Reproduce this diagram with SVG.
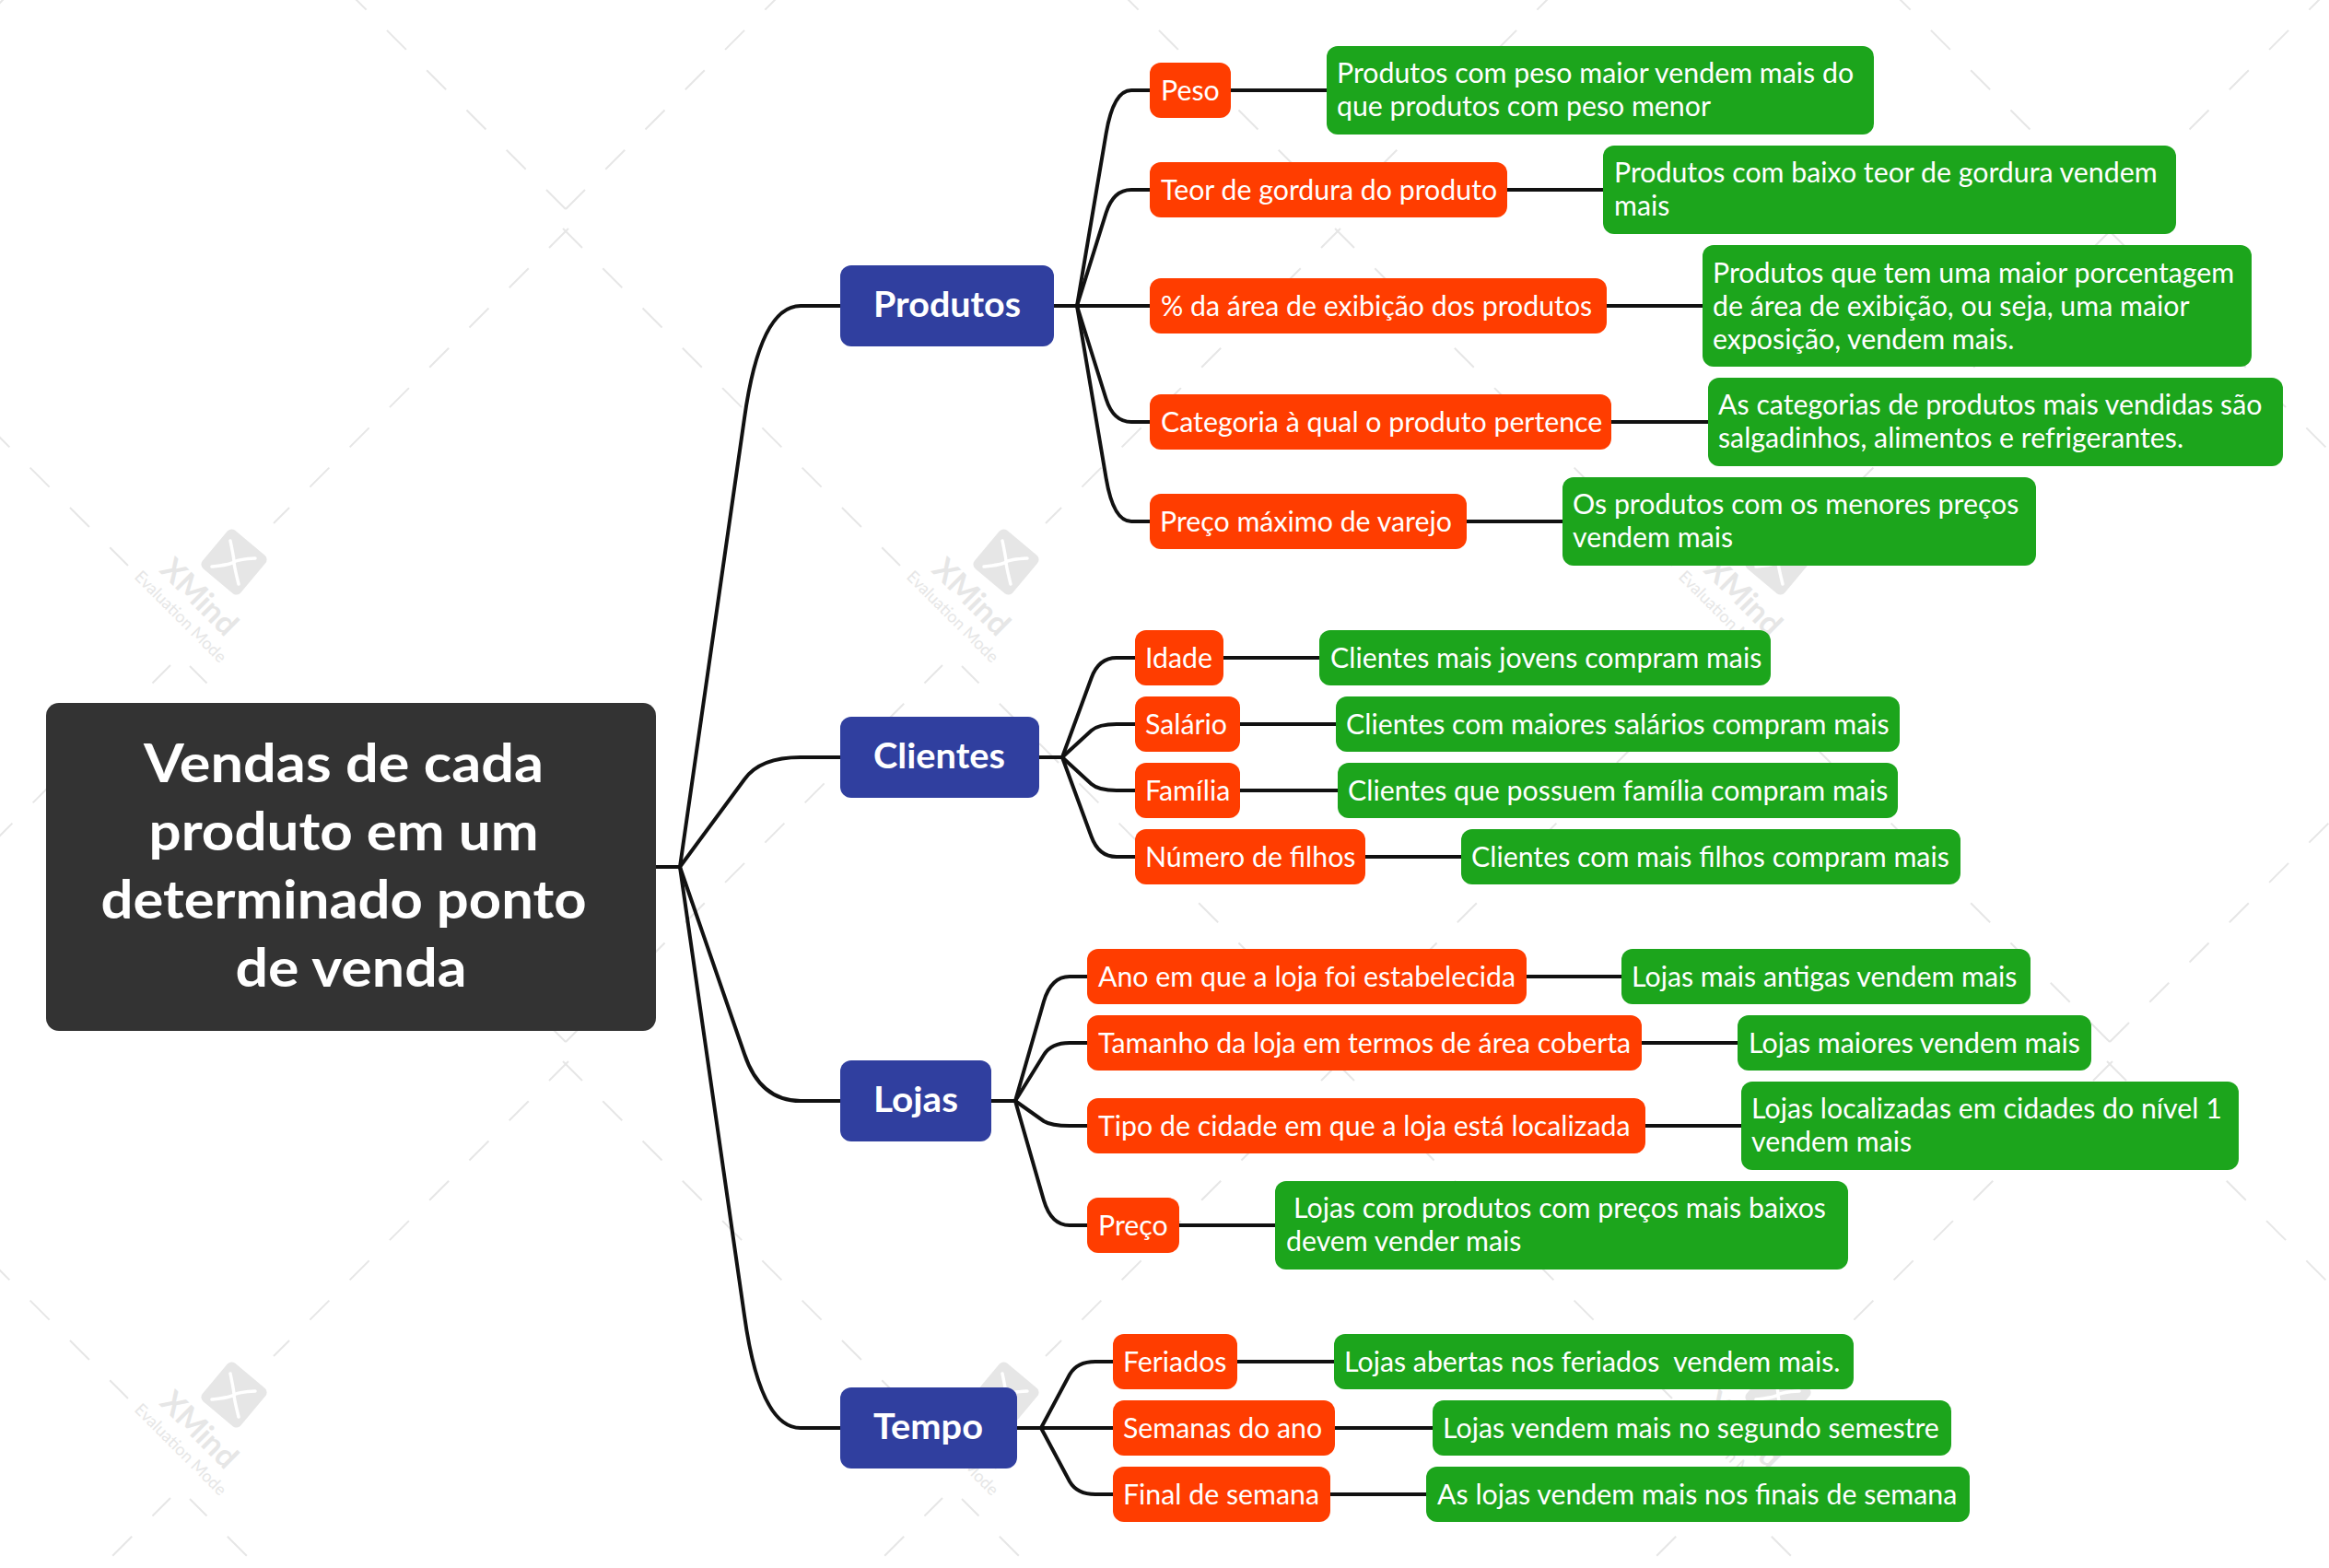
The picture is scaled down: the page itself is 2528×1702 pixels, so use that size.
<svg xmlns="http://www.w3.org/2000/svg" width="2528" height="1702" viewBox="0 0 2528 1702">
<style>
text{font-family:"Lato","Noto Sans","Liberation Sans",sans-serif;fill:#fff;white-space:pre}
.c{fill:none;stroke:#111;stroke-width:4}
.d{fill:none;stroke:#e6e6e6;stroke-width:2;stroke-dasharray:29.7 31.5}
.r{fill:#333}.b{fill:#303f9f}.o{fill:#ff3d00}.g{fill:#1ca51c}
.t0{font-size:58px;font-weight:700;text-anchor:middle}
.t1{font-size:38px;font-weight:700}
.t2{font-size:30.3px}
.wl{fill:#e6e6e6}
.wx{font-size:34px;font-weight:700;fill:#e6e6e6}
.we{font-size:18px;fill:#e6e6e6}
</style>
<defs>
<g id="dash"><path class="d" d="M614 1131L1023 722"/><path class="d" d="M614 1131L206 723"/><path class="d" d="M617 248L297 568"/><path class="d" d="M611 248L977 614"/></g>
<g id="mark"><rect class="wl" x="-27" y="-27" width="54" height="54" rx="6" transform="rotate(40)"/><path d="M-4-23Q0-4 0 0T5 24M-24 5Q-4 3 0 0T23-4" fill="none" stroke="#fff" stroke-width="3.500" stroke-linecap="round"/></g>
</defs>
<rect width="2528" height="1702" fill="#fff"/>
<g id="watermark">
<use href="#dash" x="-838" y="-904"/><use href="#dash" y="-904"/><use href="#dash" x="838" y="-904"/><use href="#dash" x="1676" y="-904"/>
<use href="#dash" x="-838"/><use href="#dash"/><use href="#dash" x="838"/><use href="#dash" x="1676"/>
<use href="#dash" x="-838" y="904"/><use href="#dash" y="904"/><use href="#dash" x="838" y="904"/><use href="#dash" x="1676" y="904"/>
<g transform="translate(254 610)"><use href="#mark"/><text class="wx" transform="translate(-82 10) rotate(45)" textLength="102" lengthAdjust="spacingAndGlyphs">XMind</text><text class="we" transform="translate(-109 17) rotate(45)" textLength="132" lengthAdjust="spacingAndGlyphs">Evaluation Mode</text></g>
<g transform="translate(1092 610)"><use href="#mark"/><text class="wx" transform="translate(-82 10) rotate(45)" textLength="102" lengthAdjust="spacingAndGlyphs">XMind</text><text class="we" transform="translate(-109 17) rotate(45)" textLength="132" lengthAdjust="spacingAndGlyphs">Evaluation Mode</text></g>
<g transform="translate(1930 610)"><use href="#mark"/><text class="wx" transform="translate(-82 10) rotate(45)" textLength="102" lengthAdjust="spacingAndGlyphs">XMind</text><text class="we" transform="translate(-109 17) rotate(45)" textLength="132" lengthAdjust="spacingAndGlyphs">Evaluation Mode</text></g>
<g transform="translate(254 1514)"><use href="#mark"/><text class="wx" transform="translate(-82 10) rotate(45)" textLength="102" lengthAdjust="spacingAndGlyphs">XMind</text><text class="we" transform="translate(-109 17) rotate(45)" textLength="132" lengthAdjust="spacingAndGlyphs">Evaluation Mode</text></g>
<g transform="translate(1092 1514)"><use href="#mark"/><text class="wx" transform="translate(-82 10) rotate(45)" textLength="102" lengthAdjust="spacingAndGlyphs">XMind</text><text class="we" transform="translate(-109 17) rotate(45)" textLength="132" lengthAdjust="spacingAndGlyphs">Evaluation Mode</text></g>
<g transform="translate(1930 1514)"><use href="#mark"/><text class="wx" transform="translate(-82 10) rotate(45)" textLength="102" lengthAdjust="spacingAndGlyphs">XMind</text><text class="we" transform="translate(-109 17) rotate(45)" textLength="132" lengthAdjust="spacingAndGlyphs">Evaluation Mode</text></g>
</g>
<g id="connectors">
<path class="c" d="M712 941H738"/>
<path class="c" d="M738 941L808 454Q825 332 869 332H912"/>
<path class="c" d="M738 941L808 846Q825 822 869 822H912"/>
<path class="c" d="M738 941L808 1144Q825 1195 869 1195H912"/>
<path class="c" d="M738 941L808 1428Q825 1550 869 1550H912"/>
<path class="c" d="M1144 332H1248"/>
<path class="c" d="M1169 332L1200.600 145Q1208.500 98 1228 98H1248"/>
<path class="c" d="M1169 332L1200.600 231Q1208.500 206 1228 206H1248"/>
<path class="c" d="M1169 332L1200.600 433Q1208.500 458 1228 458H1248"/>
<path class="c" d="M1169 332L1200.600 519Q1208.500 566 1228 566H1248"/>
<path class="c" d="M1127 822H1153"/>
<path class="c" d="M1153 822L1184.600 736Q1192.500 714 1212 714H1232"/>
<path class="c" d="M1153 822L1184.600 793Q1192.500 786 1212 786H1232"/>
<path class="c" d="M1153 822L1184.600 851Q1192.500 858 1212 858H1232"/>
<path class="c" d="M1153 822L1184.600 908Q1192.500 930 1212 930H1232"/>
<path class="c" d="M1076 1195H1102"/>
<path class="c" d="M1102 1195L1133 1087Q1141 1060 1161 1060H1180"/>
<path class="c" d="M1102 1195L1133 1145Q1141 1132 1161 1132H1180"/>
<path class="c" d="M1102 1195L1133 1217Q1141 1222 1161 1222H1180"/>
<path class="c" d="M1102 1195L1133 1303Q1141 1330 1161 1330H1180"/>
<path class="c" d="M1104 1550H1208"/>
<path class="c" d="M1130 1550L1161 1492Q1169 1478 1189 1478H1208"/>
<path class="c" d="M1130 1550L1161 1608Q1169 1622 1189 1622H1208"/>
<path class="c" d="M1336 98H1440"/><path class="c" d="M1636 206H1740"/><path class="c" d="M1744 332H1848"/><path class="c" d="M1749 458H1854"/><path class="c" d="M1592 566H1696"/>
<path class="c" d="M1328 714H1432"/><path class="c" d="M1346 786H1450"/><path class="c" d="M1346 858H1452"/><path class="c" d="M1482 930H1586"/>
<path class="c" d="M1657 1060H1760"/><path class="c" d="M1782 1132H1886"/><path class="c" d="M1786 1222H1890"/><path class="c" d="M1280 1330H1384"/>
<path class="c" d="M1343 1478H1448"/><path class="c" d="M1449 1550H1555"/><path class="c" d="M1444 1622H1548"/>
</g>
<g id="root"><rect class="r" x="50" y="763" width="662" height="356" rx="14"/><text class="t0" x="373" y="849" textLength="434" lengthAdjust="spacingAndGlyphs">Vendas de cada</text><text class="t0" x="373" y="923" textLength="423" lengthAdjust="spacingAndGlyphs">produto em um</text><text class="t0" x="373" y="997" textLength="527" lengthAdjust="spacingAndGlyphs">determinado ponto</text><text class="t0" x="381" y="1071" textLength="251" lengthAdjust="spacingAndGlyphs">de venda</text></g>
<g id="produtos"><rect class="b" x="912" y="288" width="232" height="88" rx="12"/><text class="t1" x="948" y="344" textLength="160" lengthAdjust="spacingAndGlyphs">Produtos</text></g>
<g id="clientes"><rect class="b" x="912" y="778" width="216" height="88" rx="12"/><text class="t1" x="948" y="834" textLength="143" lengthAdjust="spacingAndGlyphs">Clientes</text></g>
<g id="lojas"><rect class="b" x="912" y="1151" width="164" height="88" rx="12"/><text class="t1" x="948" y="1207" textLength="92" lengthAdjust="spacingAndGlyphs">Lojas</text></g>
<g id="tempo"><rect class="b" x="912" y="1506" width="192" height="88" rx="12"/><text class="t1" x="948" y="1562" textLength="119" lengthAdjust="spacingAndGlyphs">Tempo</text></g>
<g id="peso"><rect class="o" x="1248" y="68" width="88" height="60" rx="12"/><text class="t2" x="1260" y="109">Peso</text></g>
<g id="peso-d"><rect class="g" x="1440" y="50" width="594" height="96" rx="12"/><text class="t2" x="1451" y="90">Produtos com peso maior vendem mais do</text><text class="t2" x="1451" y="126">que produtos com peso menor</text></g>
<g id="teor"><rect class="o" x="1248" y="176" width="388" height="60" rx="12"/><text class="t2" x="1260" y="217">Teor de gordura do produto</text></g>
<g id="teor-d"><rect class="g" x="1740" y="158" width="622" height="96" rx="12"/><text class="t2" x="1752" y="198">Produtos com baixo teor de gordura vendem</text><text class="t2" x="1752" y="234">mais</text></g>
<g id="area"><rect class="o" x="1248" y="302" width="496" height="60" rx="12"/><text class="t2" x="1260" y="343">% da área de exibição dos produtos</text></g>
<g id="area-d"><rect class="g" x="1848" y="266" width="596" height="132" rx="12"/><text class="t2" x="1859" y="307">Produtos que tem uma maior porcentagem</text><text class="t2" x="1859" y="343">de área de exibição, ou seja, uma maior</text><text class="t2" x="1859" y="379">exposição, vendem mais.</text></g>
<g id="categoria"><rect class="o" x="1248" y="428" width="501" height="60" rx="12"/><text class="t2" x="1260" y="469">Categoria à qual o produto pertence</text></g>
<g id="categoria-d"><rect class="g" x="1854" y="410" width="624" height="96" rx="12"/><text class="t2" x="1865" y="450">As categorias de produtos mais vendidas são</text><text class="t2" x="1865" y="486">salgadinhos, alimentos e refrigerantes.</text></g>
<g id="preco-max"><rect class="o" x="1248" y="536" width="344" height="60" rx="12"/><text class="t2" x="1259" y="577">Preço máximo de varejo</text></g>
<g id="preco-max-d"><rect class="g" x="1696" y="518" width="514" height="96" rx="12"/><text class="t2" x="1707" y="558">Os produtos com os menores preços</text><text class="t2" x="1707" y="594">vendem mais</text></g>
<g id="idade"><rect class="o" x="1232" y="684" width="96" height="60" rx="12"/><text class="t2" x="1243" y="725">Idade</text></g>
<g id="idade-d"><rect class="g" x="1432" y="684" width="490" height="60" rx="12"/><text class="t2" x="1444" y="725">Clientes mais jovens compram mais</text></g>
<g id="salario"><rect class="o" x="1232" y="756" width="114" height="60" rx="12"/><text class="t2" x="1243" y="797">Salário</text></g>
<g id="salario-d"><rect class="g" x="1450" y="756" width="612" height="60" rx="12"/><text class="t2" x="1461" y="797">Clientes com maiores salários compram mais</text></g>
<g id="familia"><rect class="o" x="1232" y="828" width="114" height="60" rx="12"/><text class="t2" x="1243" y="869">Família</text></g>
<g id="familia-d"><rect class="g" x="1452" y="828" width="608" height="60" rx="12"/><text class="t2" x="1463" y="869">Clientes que possuem família compram mais</text></g>
<g id="filhos"><rect class="o" x="1232" y="900" width="250" height="60" rx="12"/><text class="t2" x="1243" y="941">Número de filhos</text></g>
<g id="filhos-d"><rect class="g" x="1586" y="900" width="542" height="60" rx="12"/><text class="t2" x="1597" y="941">Clientes com mais filhos compram mais</text></g>
<g id="ano"><rect class="o" x="1180" y="1030" width="477" height="60" rx="12"/><text class="t2" x="1192" y="1071">Ano em que a loja foi estabelecida</text></g>
<g id="ano-d"><rect class="g" x="1760" y="1030" width="444" height="60" rx="12"/><text class="t2" x="1771" y="1071">Lojas mais antigas vendem mais</text></g>
<g id="tamanho"><rect class="o" x="1180" y="1102" width="602" height="60" rx="12"/><text class="t2" x="1192" y="1143">Tamanho da loja em termos de área coberta</text></g>
<g id="tamanho-d"><rect class="g" x="1886" y="1102" width="384" height="60" rx="12"/><text class="t2" x="1898" y="1143">Lojas maiores vendem mais</text></g>
<g id="tipo"><rect class="o" x="1180" y="1192" width="606" height="60" rx="12"/><text class="t2" x="1192" y="1233">Tipo de cidade em que a loja está localizada</text></g>
<g id="tipo-d"><rect class="g" x="1890" y="1174" width="540" height="96" rx="12"/><text class="t2" x="1901" y="1214">Lojas localizadas em cidades do nível 1</text><text class="t2" x="1901" y="1250">vendem mais</text></g>
<g id="preco"><rect class="o" x="1180" y="1300" width="100" height="60" rx="12"/><text class="t2" x="1192" y="1341">Preço</text></g>
<g id="preco-d"><rect class="g" x="1384" y="1282" width="622" height="96" rx="12"/><text class="t2" x="1404" y="1322">Lojas com produtos com preços mais baixos</text><text class="t2" x="1396" y="1358">devem vender mais</text></g>
<g id="feriados"><rect class="o" x="1208" y="1448" width="135" height="60" rx="12"/><text class="t2" x="1219" y="1489">Feriados</text></g>
<g id="feriados-d"><rect class="g" x="1448" y="1448" width="564" height="60" rx="12"/><text class="t2" x="1459" y="1489">Lojas abertas nos feriados  vendem mais.</text></g>
<g id="semanas"><rect class="o" x="1208" y="1520" width="241" height="60" rx="12"/><text class="t2" x="1219" y="1561">Semanas do ano</text></g>
<g id="semanas-d"><rect class="g" x="1555" y="1520" width="563" height="60" rx="12"/><text class="t2" x="1566" y="1561">Lojas vendem mais no segundo semestre</text></g>
<g id="final"><rect class="o" x="1208" y="1592" width="236" height="60" rx="12"/><text class="t2" x="1219" y="1633">Final de semana</text></g>
<g id="final-d"><rect class="g" x="1548" y="1592" width="590" height="60" rx="12"/><text class="t2" x="1560" y="1633">As lojas vendem mais nos finais de semana</text></g>
</svg>
